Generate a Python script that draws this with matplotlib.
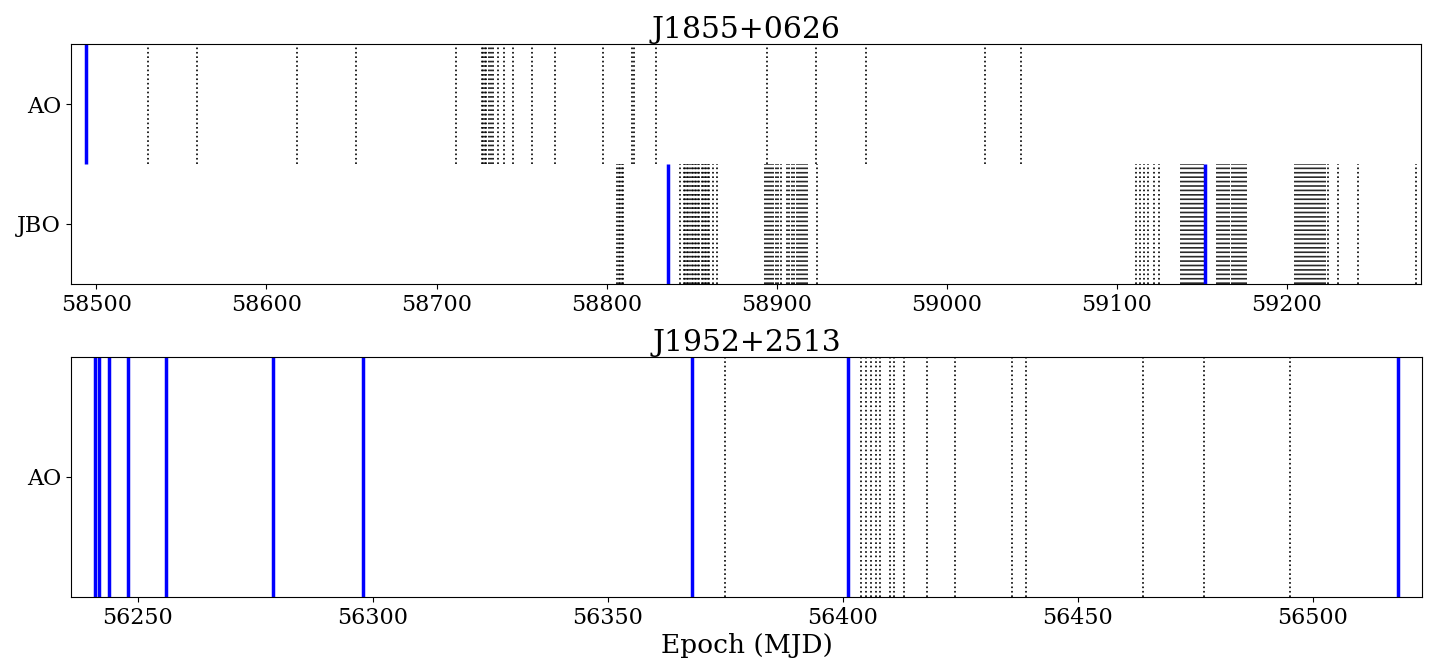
import numpy as np
import matplotlib
matplotlib.use('Agg')
import matplotlib.pyplot as plt

plt.rcParams['font.family'] = 'DejaVu Serif'

# J1855+0626 : TOA epochs (MJD)
ao_1855 = [58530.2, 58559.0, 58618.2, 58652.9, 58711.2,
           58726.6, 58727.5, 58728.4, 58729.3, 58730.8, 58731.9, 58733.3,
           58736.1, 58739.8, 58744.7, 58756.1, 58769.9, 58797.8, 58815.2,
           58816.1, 58828.8, 58894.5, 58923.0, 58952.4, 59022.5, 59043.7]
ao_1855_jump = [58494.1]
jbo_1855 = [58806.4, 58807.2, 58808.1, 58809.0, 58809.9,
            58843.1, 58845.5, 58846.4, 58847.2, 58848.1, 58849.0, 58850.2,
            58851.1, 58851.9, 58852.8, 58853.7, 58854.6, 58856.1, 58857.0,
            58857.9, 58858.7, 58859.6, 58860.5, 58862.8, 58864.9,
            58893.1, 58894.3, 58895.5, 58896.6, 58898.1, 58899.6, 58901.1,
            58902.5, 58906.1, 58907.2, 58909.0, 58910.2, 58911.9, 58913.1,
            58914.3, 58915.5, 58916.7, 58917.8, 58923.7,
            59111.6, 59113.7, 59115.8, 59118.4, 59122.2, 59125.1,
            59137.8, 59139.0, 59140.2, 59141.4, 59142.5, 59143.7, 59144.9,
            59146.1, 59147.2, 59148.4, 59149.6, 59150.8,
            59159.0, 59160.2, 59161.4, 59162.5, 59163.7, 59164.9, 59166.1,
            59167.8, 59169.0, 59170.2, 59171.4, 59172.5, 59173.7, 59174.9,
            59176.1,
            59204.9, 59206.1, 59207.2, 59208.4, 59209.6, 59210.8, 59212.0,
            59213.1, 59214.3, 59215.5, 59216.7, 59217.8, 59219.0, 59220.2,
            59221.4, 59222.5, 59224.3, 59230.4, 59241.8, 59276.1]
jbo_1855_jump = [58836.2, 59152.0]

# J1952+2513
ao_1952 = [56375.0, 56404.0, 56405.0, 56406.0, 56407.0, 56408.0, 56410.0,
           56411.0, 56413.0, 56418.0, 56424.0, 56436.0, 56439.0, 56464.0,
           56477.0, 56495.2]
ao_1952_jump = [56240.9, 56241.8, 56244.0, 56247.9, 56256.0, 56278.9,
                56298.0, 56368.0, 56401.1, 56518.1]

fig = plt.figure(figsize=(14.36, 6.69), dpi=100)
ax1 = fig.add_axes([0.0494, 0.5755, 0.9402, 0.3587])
ax2 = fig.add_axes([0.0494, 0.1076, 0.9409, 0.3588])

def draw(ax, epochs, jumps, y):
    ax.vlines(epochs, y - 0.5, y + 0.5, colors='k', linestyles=':', lw=1.2)
    ax.vlines(jumps, y - 0.5, y + 0.5, colors='b', linestyles='-', lw=2.5)

draw(ax1, ao_1855, ao_1855_jump, 1)
draw(ax1, jbo_1855, jbo_1855_jump, 0)
ax1.set_ylim(-0.5, 1.5)
ax1.set_yticks([0, 1])
ax1.set_yticklabels(['JBO', 'AO'])
ax1.set_xlim(58485, 59279)
ax1.set_title('J1855+0626', fontsize=21.5, pad=3)

draw(ax2, ao_1952, ao_1952_jump, 0)
ax2.set_ylim(-0.5, 0.5)
ax2.set_yticks([0])
ax2.set_yticklabels(['AO'])
ax2.set_xlim(56235.8, 56523.3)
ax2.set_title('J1952+2513', fontsize=21.5, pad=3)
ax2.set_xlabel('Epoch (MJD)', fontsize=19, labelpad=3)

for ax in (ax1, ax2):
    ax.tick_params(labelsize=16)

fig.savefig('out.png', dpi=100)
